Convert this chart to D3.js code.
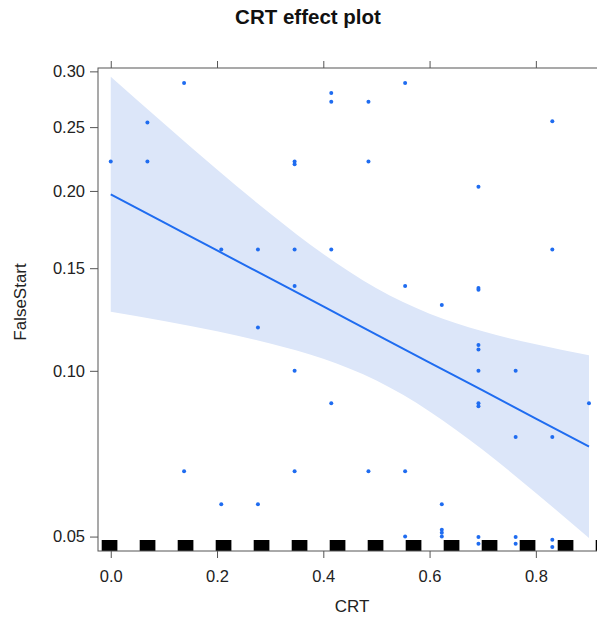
<!DOCTYPE html>
<html>
<head>
<meta charset="utf-8">
<script src="https://cdn.jsdelivr.net/npm/d3@7"></script>
<style>
  html, body { margin: 0; padding: 0; background: #fff; }
  svg { display: block; font-family: "Liberation Sans", Arial, Helvetica, sans-serif; }
</style>
</head>
<body>
<svg id="chart" width="597" height="617"></svg>
<script>
// ---- data ----
const titleText = "CRT effect plot";
const xLabel = "CRT";
const yLabel = "FalseStart";
const crtTicks = [0, 0.2, 0.4, 0.6, 0.8];
const fsTicks = [0.05, 0.10, 0.15, 0.20, 0.25, 0.30];

// fitted effect and 95% band (probability scale)
const gridCRT = [0, 0.1, 0.2, 0.3, 0.4, 0.5, 0.6, 0.7, 0.8, 0.9];
const fitFS   = [0.1976, 0.1783, 0.1605, 0.1442, 0.1293, 0.1157, 0.1034, 0.0923, 0.0822, 0.0732];
const lowerFS = [0.1266, 0.1221, 0.1172, 0.1117, 0.1050, 0.0961, 0.0847, 0.0722, 0.0602, 0.0497];
const upperFS = [0.2950, 0.2530, 0.2159, 0.1842, 0.1583, 0.1388, 0.1257, 0.1172, 0.1113, 0.1065];

// partial residual / observed points
const pointCRT = [
  0,
  0.069, 0.069,
  0.138, 0.138,
  0.208, 0.208,
  0.277, 0.277, 0.277,
  0.346, 0.346, 0.346, 0.346, 0.346, 0.346,
  0.415, 0.415, 0.415, 0.415,
  0.485, 0.485, 0.485,
  0.554, 0.554, 0.554, 0.554,
  0.623, 0.623, 0.623, 0.623, 0.623,
  0.692, 0.692, 0.692, 0.692, 0.692, 0.692, 0.692, 0.692, 0.692, 0.692,
  0.762, 0.762, 0.762, 0.762,
  0.831, 0.831, 0.831, 0.831, 0.831,
  0.9
];
const pointFS = [
  0.222,
  0.254, 0.222,
  0.289, 0.066,
  0.161, 0.0574,
  0.161, 0.119, 0.0574,
  0.222, 0.220, 0.161, 0.140, 0.100, 0.066,
  0.280, 0.272, 0.161, 0.0876,
  0.272, 0.222, 0.066,
  0.289, 0.140, 0.066, 0.050,
  0.130, 0.0574, 0.0515, 0.0508, 0.0500,
  0.203, 0.139, 0.138, 0.111, 0.109, 0.100, 0.0876, 0.0865, 0.0499, 0.0485,
  0.100, 0.0762, 0.0499, 0.0485,
  0.255, 0.161, 0.0762, 0.0493, 0.0478,
  0.0876
];

// ---- layout ----
const panel = { left: 98, top: 68, bottom: 551, right: 602 };
const blue = "#1f6cf0";
const bandFill = "#dce6f9";
const axisCol = "#555";

const logit = p => Math.log(p / (1 - p));
const invlogit = l => 1 / (1 + Math.exp(-l));

const x = d3.scaleLinear().domain([-0.024, 0.9245]).range([panel.left, panel.right]);
const yL = d3.scaleLinear().domain([logit(0.047), logit(0.3032)]).range([panel.bottom, panel.top]);
const y = p => yL(logit(p));

const svg = d3.select("#chart");

svg.append("defs").append("clipPath").attr("id", "clip")
  .append("rect")
  .attr("x", panel.left).attr("y", panel.top)
  .attr("width", panel.right - panel.left).attr("height", panel.bottom - panel.top);

const plot = svg.append("g").attr("clip-path", "url(#clip)");

const bandData = gridCRT.map((c, i) => ({ c, lo: lowerFS[i], hi: upperFS[i], fit: fitFS[i] }));

plot.append("path")
  .datum(bandData)
  .attr("fill", bandFill)
  .attr("d", d3.area()
    .x(d => x(d.c))
    .y0(d => y(d.lo))
    .y1(d => y(d.hi))
    .curve(d3.curveMonotoneX));

plot.append("path")
  .datum(bandData)
  .attr("fill", "none")
  .attr("stroke", blue)
  .attr("stroke-width", 2)
  .attr("d", d3.line()
    .x(d => x(d.c))
    .y(d => y(d.fit))
    .curve(d3.curveMonotoneX));

// rug along the bottom (rendered as a thick dashed band)
plot.append("line")
  .attr("x1", 101.7).attr("x2", panel.right)
  .attr("y1", panel.bottom - 5.5).attr("y2", panel.bottom - 5.5)
  .attr("stroke", "#000")
  .attr("stroke-width", 11)
  .attr("stroke-dasharray", "15.7,22.3");

plot.selectAll("circle.pt")
  .data(pointCRT.map((c, i) => ({ c, v: pointFS[i] })))
  .join("circle")
  .attr("class", "pt")
  .attr("cx", d => x(d.c))
  .attr("cy", d => y(d.v))
  .attr("r", 2)
  .attr("fill", blue);

// frame
svg.append("rect")
  .attr("x", panel.left).attr("y", panel.top)
  .attr("width", panel.right - panel.left).attr("height", panel.bottom - panel.top)
  .attr("fill", "none").attr("stroke", axisCol).attr("stroke-width", 1);

// axes
function styleAxis(g) {
  g.select(".domain").remove();
  g.selectAll(".tick line").attr("stroke", axisCol).attr("stroke-width", 1);
  g.selectAll(".tick text").attr("fill", "#222").style("font-size", "16.5px");
}

svg.append("g")
  .attr("transform", `translate(0,${panel.bottom})`)
  .call(d3.axisBottom(x).tickValues(crtTicks).tickSize(7).tickPadding(12).tickFormat(d3.format(".1f")))
  .call(styleAxis);

svg.append("g")
  .attr("transform", `translate(0,${panel.top})`)
  .call(d3.axisTop(x).tickValues(crtTicks).tickSize(7).tickFormat(""))
  .call(styleAxis);

svg.append("g")
  .attr("transform", `translate(${panel.left},0)`)
  .call(d3.axisLeft(yL).tickValues(fsTicks.map(logit)).tickSize(8).tickPadding(5)
    .tickFormat(v => d3.format(".2f")(invlogit(v))))
  .call(styleAxis);

// titles
svg.append("text")
  .attr("x", 308).attr("y", 24)
  .attr("text-anchor", "middle")
  .style("font-size", "20.5px").style("font-weight", "bold")
  .attr("fill", "#111")
  .text(titleText);

svg.append("text")
  .attr("x", 352).attr("y", 612)
  .attr("text-anchor", "middle")
  .style("font-size", "17px")
  .attr("fill", "#222")
  .text(xLabel);

svg.append("text")
  .attr("transform", "translate(26,302) rotate(-90)")
  .attr("text-anchor", "middle")
  .style("font-size", "17px")
  .attr("fill", "#222")
  .text(yLabel);
</script>
</body>
</html>
